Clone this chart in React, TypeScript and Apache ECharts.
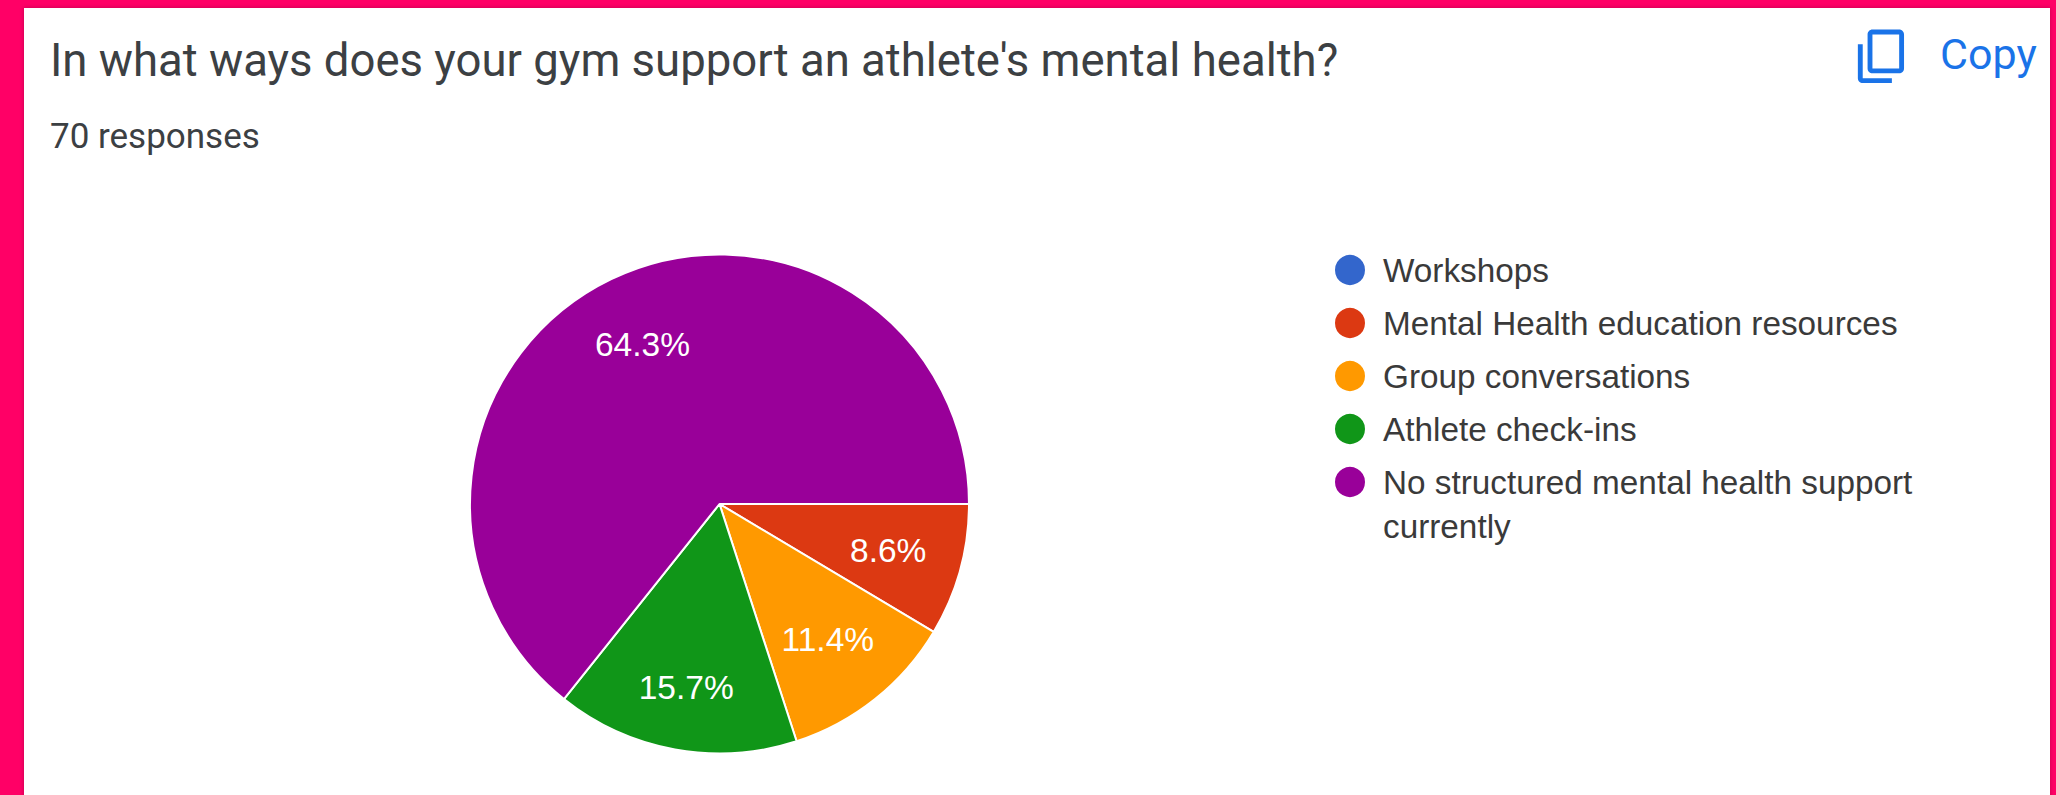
import React, { useEffect, useRef } from "react";
import * as echarts from "echarts";

const question = "In what ways does your gym support an athlete's mental health?";
const responses = "70 responses";
const copyLabel = "Copy";

const categories = [
  "Workshops",
  "Mental Health education resources",
  "Group conversations",
  "Athlete check-ins",
  "No structured mental health support currently",
];
const counts = [0, 6, 8, 11, 45];
const sliceColors = ["#3366cc", "#dc3912", "#ff9900", "#109618", "#990099"];
// How far out each percentage sits, relative to the sector's default mid-radius.
const labelReach = [1, 1.37, 1.36, 1.46, 1.39];

const PIE_CX = 719.5;
const PIE_CY = 504;
const PIE_R = 249.5;

const COPY_ICON =
  "M16 1H4c-1.1 0-2 .9-2 2v14h2V3h12V1zm3 4H8c-1.1 0-2 .9-2 2v14c0 1.1.9 2 2 2h11c1.1 0 2-.9 2-2V7c0-1.1-.9-2-2-2zm0 16H8V7h11v14z";
echarts.graphic.registerShape("copyIcon", echarts.graphic.extendPath(COPY_ICON, {}) as any);

const legendShared = {
  orient: "vertical" as const,
  left: 1328,
  icon: "circle",
  itemWidth: 56,
  itemHeight: 32,
  itemGap: 9,
  selectedMode: false,
  textStyle: {
    fontFamily: "Liberation Sans",
    fontSize: 33.3,
    lineHeight: 44,
    color: "#3a3a3a",
  },
};

export default function App() {
  const ref = useRef<HTMLDivElement>(null);

  useEffect(() => {
    const chart = echarts.init(ref.current!, null, { renderer: "svg" });
    chart.setOption({
      animation: false,
      backgroundColor: "#ff0066",
      graphic: [
        {
          type: "rect",
          z: -10,
          shape: { x: 24, y: 8, width: 2026, height: 800 },
          style: { fill: "#ffffff", shadowBlur: 4, shadowColor: "rgba(0,0,0,0.25)" },
        },
        {
          type: "copyIcon",
          x: 1853,
          y: 85.5,
          scaleX: 2.43,
          scaleY: -2.43,
          style: { fill: "#1a73e8" },
        },
      ],
      title: [
        {
          text: question,
          left: 50,
          top: 37,
          padding: 0,
          textStyle: { fontFamily: "Roboto", fontSize: 45.5, fontWeight: 400, color: "#3c4043" },
        },
        {
          text: responses,
          left: 50,
          top: 119,
          padding: 0,
          textStyle: { fontFamily: "Roboto", fontSize: 35, fontWeight: 400, color: "#3c4043" },
        },
        {
          text: copyLabel,
          left: 1940,
          top: 32,
          padding: 0,
          textStyle: { fontFamily: "Roboto", fontSize: 43, fontWeight: 400, color: "#1a73e8" },
        },
      ],
      legend: [
        {
          ...legendShared,
          top: 243,
          data: categories.slice(0, 4),
        },
        {
          // The blank first line keeps the marker level with the first line of text.
          ...legendShared,
          top: 411,
          data: categories.slice(4),
          formatter: () => " \nNo structured mental health support\ncurrently",
        },
      ],
      series: [
        {
          type: "pie",
          center: [PIE_CX, PIE_CY],
          radius: [0, PIE_R],
          startAngle: 0,
          clockwise: true,
          percentPrecision: 1,
          silent: true,
          minShowLabelAngle: 0.5,
          data: categories.map((name, i) => ({
            name,
            value: counts[i],
            itemStyle: { color: sliceColors[i] },
          })),
          itemStyle: { borderColor: "#ffffff", borderWidth: 2 },
          label: {
            show: true,
            position: "inside",
            formatter: "{d}%",
            color: "#ffffff",
            fontFamily: "Liberation Sans",
            fontSize: 33.5,
          },
          labelLine: { show: false },
          labelLayout: (params: any) => {
            const r = params.labelRect;
            const k = labelReach[params.dataIndex] - 1;
            return {
              dx: (r.x + r.width / 2 - PIE_CX) * k,
              dy: (r.y + r.height / 2 - PIE_CY) * k,
            };
          },
        },
      ],
    });
    return () => chart.dispose();
  }, []);

  return (
    <div
      ref={ref}
      style={{ position: "fixed", left: 0, top: 0, width: 2056, height: 795 }}
    />
  );
}
